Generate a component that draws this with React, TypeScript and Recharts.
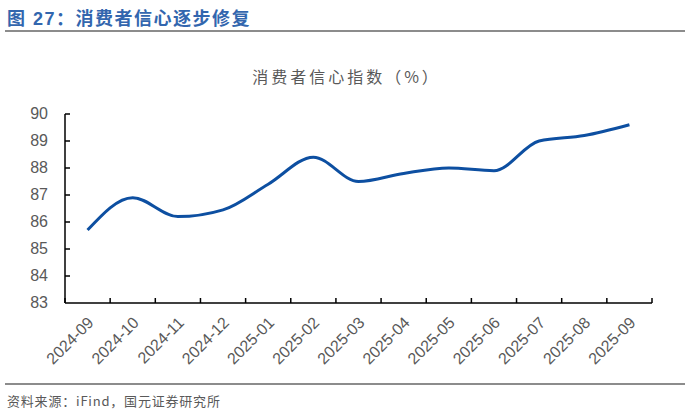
import { LineChart, Line, XAxis, YAxis } from "recharts";

const months = [
  "2024-09", "2024-10", "2024-11", "2024-12", "2025-01", "2025-02", "2025-03",
  "2025-04", "2025-05", "2025-06", "2025-07", "2025-08", "2025-09",
];
const confidence = [85.7, 86.9, 86.2, 86.45, 87.4, 88.4, 87.5, 87.8, 88.0, 87.9, 89.0, 89.2, 89.6];
const yTicks = [83, 84, 85, 86, 87, 88, 89, 90];

const data = months.map((m, i) => ({ month: m, value: confidence[i] }));

const W = 691;
const H = 414;
const LEFT = 65;
const RIGHT = 39;
const TOP = 114;
const BOTTOM = 111;
const bandW = (W - LEFT - RIGHT) / months.length;

const YTick = (props: any) => {
  const { x, y, payload } = props;
  const ax = x + 17;
  return (
    <g>
      {payload.value !== 83 && (
        <line x1={ax} x2={ax + 5} y1={y} y2={y} stroke="#000" strokeWidth={1.5} />
      )}
      <text x={x} y={y} dy={5} textAnchor="end" fill="#595959" fontSize={16} fontFamily="Liberation Sans, Arial">
        {payload.value}
      </text>
    </g>
  );
};

const XTick = (props: any) => {
  const { x, y, payload, index } = props;
  const ay = y - 8;
  const lx = x - bandW / 2;
  return (
    <g>
      <line x1={lx} x2={lx} y1={ay} y2={ay - 5} stroke="#000" strokeWidth={1.5} />
      {index === months.length - 1 && (
        <line x1={x + bandW / 2} x2={x + bandW / 2} y1={ay} y2={ay - 5} stroke="#000" strokeWidth={1.5} />
      )}
      <text
        x={x}
        y={y}
        dx={-4}
        dy={14}
        textAnchor="end"
        fill="#595959"
        fontSize={16}
        fontFamily="Liberation Sans, Arial"
        transform={`rotate(-45, ${x}, ${y})`}
      >
        {payload.value}
      </text>
    </g>
  );
};

export default function App() {
  return (
    <div style={{ position: "absolute", left: 0, top: 0, width: W, height: H, background: "#fff" }}>
      <div
        style={{
          position: "absolute",
          left: 7,
          top: 4,
          fontSize: 18,
          fontWeight: "bold",
          letterSpacing: 1.5,
          color: "#3266ae",
          fontFamily: "Liberation Sans, 'Noto Sans CJK SC'",
          whiteSpace: "nowrap",
        }}
      >
        图 27：消费者信心逐步修复
      </div>
      <div style={{ position: "absolute", left: 5, top: 30, width: 680, height: 2, background: "#8c8c8c" }} />
      <div
        style={{
          position: "absolute",
          left: 5,
          top: 64,
          width: 683,
          textAlign: "center",
          fontSize: 16,
          letterSpacing: 3,
          color: "#595959",
          fontFamily: "'Noto Sans CJK SC', sans-serif",
        }}
      >
        消费者信心指数（%）
      </div>
      <div style={{ position: "absolute", left: 0, top: 0 }}>
        <LineChart width={W} height={H} data={data} margin={{ top: TOP, right: RIGHT, bottom: 0, left: 0 }}>
          <XAxis
            dataKey="month"
            interval={0}
            padding={{ left: bandW / 2, right: bandW / 2 }}
            tickLine={false}
            tickSize={0}
            tickMargin={8}
            height={BOTTOM}
            axisLine={{ stroke: "#000", strokeWidth: 1.5 }}
            tick={<XTick />}
          />
          <YAxis
            domain={[83, 90]}
            ticks={yTicks}
            interval={0}
            width={LEFT}
            tickLine={false}
            tickSize={0}
            tickMargin={17}
            axisLine={{ stroke: "#000", strokeWidth: 1.5 }}
            tick={<YTick />}
          />
          <Line
            type="monotone"
            dataKey="value"
            stroke="#0d4fa1"
            strokeWidth={3}
            dot={false}
            isAnimationActive={false}
          />
        </LineChart>
      </div>
      <div style={{ position: "absolute", left: 5, top: 383, width: 680, height: 2, background: "#8c8c8c" }} />
      <div
        style={{
          position: "absolute",
          left: 7,
          top: 391,
          fontSize: 13,
          letterSpacing: 0.8,
          color: "#595959",
          fontFamily: "'Noto Sans CJK SC', sans-serif",
          whiteSpace: "nowrap",
        }}
      >
        资料来源：iFind，国元证券研究所
      </div>
    </div>
  );
}
